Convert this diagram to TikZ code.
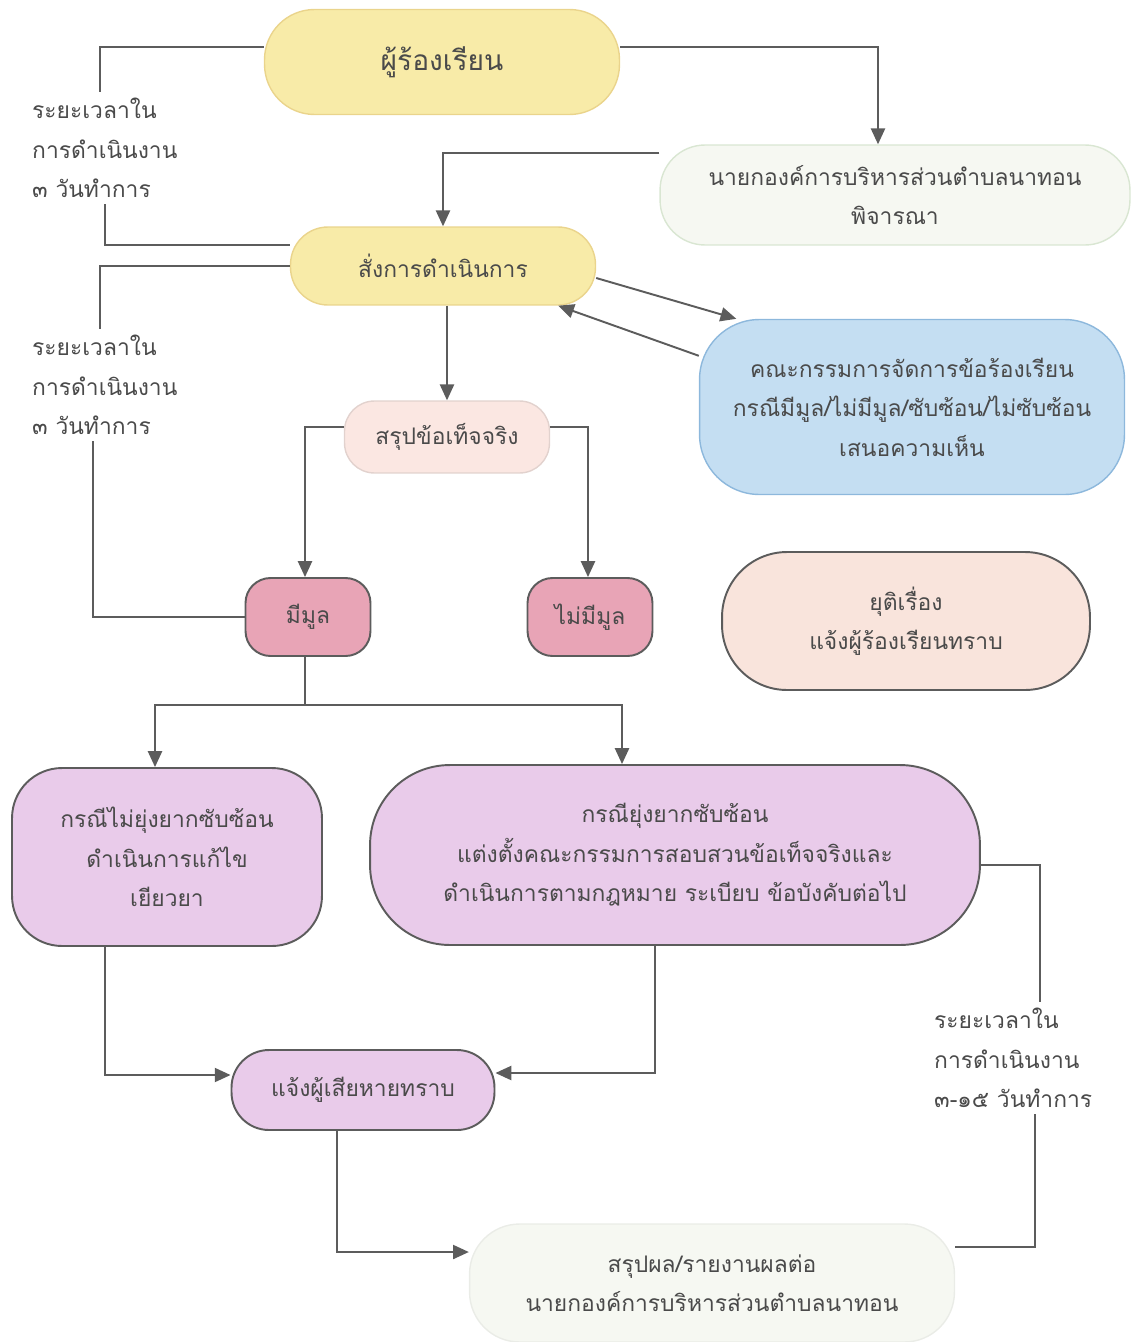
\documentclass[tikz,border=0pt]{standalone}
\usepackage{fontspec}
\setmainfont[Script=Thai]{Loma}
\usepackage{tikz}
\usetikzlibrary{arrows.meta, positioning, calc}
\definecolor{lineg}{HTML}{5C5C5C}
\definecolor{textg}{HTML}{4A4A4A}
\definecolor{yellowfill}{HTML}{F8EBA8}
\definecolor{yellowedge}{HTML}{EAD48C}
\definecolor{pinkfill}{HTML}{E8A4B6}
\definecolor{lilacfill}{HTML}{E9CBEA}
\definecolor{bluefill}{HTML}{C4DEF2}
\definecolor{blueedge}{HTML}{8DB8DC}
\definecolor{peachfill}{HTML}{F9E4DC}
\definecolor{rosefill}{HTML}{FBE7E2}
\definecolor{palefill}{HTML}{F6F8F2}
\definecolor{paleedge}{HTML}{D9E6D2}

\begin{document}
\begin{tikzpicture}[
    x=0.02cm, y=-0.02cm,
    every node/.style={font=\fontsize{13}{22.5}\selectfont, text=textg},
    softpill/.style={rectangle, align=center, rounded corners=0.75cm, thick},
    yellowpill/.style={softpill, fill=yellowfill, draw=yellowedge},
    palepill/.style={softpill, fill=palefill, draw=paleedge},
    darkbox/.style={rectangle, align=center, fill=lilacfill, draw=lineg,
                    line width=1.1pt, rounded corners=0.75cm},
    note/.style={align=left, anchor=west},
    link/.style={line width=1.1pt, lineg},
    arrow/.style={link, -{Triangle[length=9pt,width=8pt]}}
]
\useasboundingbox (0,0) rectangle (1133,1342);

% Upper part
\node[yellowpill, minimum width=7.1cm, minimum height=2.1cm, rounded corners=1cm,
      font=\fontsize{16}{22}\selectfont] at (442,62) (comp) {ผู้ร้องเรียน};
\node[palepill, minimum width=9.4cm, minimum height=2cm, rounded corners=0.9cm]
      at (895,195) (mayor) {นายกองค์การบริหารส่วนตำบลนาทอน\\พิจารณา};
\node[yellowpill, minimum width=6.1cm, minimum height=1.56cm] at (443,266) (order) {สั่งการดำเนินการ};
\node[softpill, fill=bluefill, draw=blueedge, minimum width=8.5cm, minimum height=3.5cm,
      rounded corners=1.2cm] at (912,407) (board)
      {คณะกรรมการจัดการข้อร้องเรียน\\กรณีมีมูล/ไม่มีมูล/ซับซ้อน/ไม่ซับซ้อน\\เสนอความเห็น};
\node[softpill, fill=rosefill, draw=rosefill!80!gray, minimum width=4.1cm, minimum height=1.44cm,
      rounded corners=0.6cm] at (447,437) (facts) {สรุปข้อเท็จจริง};

% Decision
\node[darkbox, fill=pinkfill, minimum width=2.5cm, minimum height=1.56cm, rounded corners=0.5cm]
      at (308,617) (yes) {มีมูล};
\node[darkbox, fill=pinkfill, minimum width=2.5cm, minimum height=1.56cm, rounded corners=0.5cm]
      at (590,617) (no) {ไม่มีมูล};
\node[darkbox, fill=peachfill, minimum width=7.36cm, minimum height=2.76cm, rounded corners=1.3cm]
      at (906,621) (close) {ยุติเรื่อง\\แจ้งผู้ร้องเรียนทราบ};

% Lower part
\node[darkbox, minimum width=6.2cm, minimum height=3.56cm, rounded corners=1cm]
      at (167,857) (simple) {กรณีไม่ยุ่งยากซับซ้อน\\ดำเนินการแก้ไข\\เยียวยา};
\node[darkbox, minimum width=12.2cm, minimum height=3.6cm, rounded corners=1.6cm]
      at (675,855) (complex)
      {กรณียุ่งยากซับซ้อน\\แต่งตั้งคณะกรรมการสอบสวนข้อเท็จจริงและ\\ดำเนินการตามกฎหมาย ระเบียบ ข้อบังคับต่อไป};
\node[darkbox, minimum width=5.26cm, minimum height=1.6cm, rounded corners=0.75cm]
      at (363,1090) (notify) {แจ้งผู้เสียหายทราบ};
\node[palepill, draw=palefill!90!gray, minimum width=9.7cm, minimum height=2.36cm, rounded corners=1cm]
      at (712,1283) (report) {สรุปผล/รายงานผลต่อ\\นายกองค์การบริหารส่วนตำบลนาทอน};

% Time notes
\node[note] at (26,148) (time1) {ระยะเวลาใน\\การดำเนินงาน\\๓ วันทำการ};
\node[note] at (26,385) (time2) {ระยะเวลาใน\\การดำเนินงาน\\๓ วันทำการ};
\node[note] at (928,1058) (time3) {ระยะเวลาใน\\การดำเนินงาน\\๓-๑๕ วันทำการ};

% Arrows
\draw[arrow] ([yshift=0.3cm]comp.east) -| ([xshift=-0.34cm]mayor.north);
\draw[arrow] ([yshift=0.84cm]mayor.west) -| (order.north);
\draw[arrow] ([yshift=-0.24cm]order.east) -- ([xshift=0.75cm]board.north west);
\draw[arrow] ([yshift=-0.74cm]board.north west) -- ([xshift=-0.76cm]order.south east);
\draw[arrow] (order.south -| facts.north) -- (facts.north);
\draw[arrow] ([yshift=0.2cm]facts.west) -| ([xshift=-0.06cm]yes.north);
\draw[arrow] ([yshift=0.2cm]facts.east) -| ([xshift=-0.04cm]no.north);

\coordinate (split) at ($(yes.south)+(-3,48)$);
\draw[link] ([xshift=-0.06cm]yes.south) -- (split);
\draw[arrow] (split) -| ([xshift=-0.24cm]simple.north);
\draw[arrow] (split) -| ([xshift=-1.06cm]complex.north);

\draw[arrow] ([xshift=-1.24cm]simple.south) |- ([yshift=0.3cm]notify.west);
\draw[arrow] ([xshift=-0.4cm]complex.south) |- ([yshift=0.34cm]notify.east);
\draw[arrow] ([xshift=-0.52cm]notify.south) |- ([yshift=0.62cm]report.west);

% Time brackets
\draw[link] ([yshift=0.3cm]comp.west) -| ([xshift=1.48cm]time1.north west);
\draw[link] ([xshift=1.58cm]time1.south west) |- ([yshift=0.42cm]order.west);
\draw[link] (order.west) -| ([xshift=1.48cm]time2.north west);
\draw[link] ([xshift=1.34cm]time2.south west) |- (yes.west);
\draw[link] ([yshift=-0.2cm]complex.east) -| ([xshift=2.24cm]time3.north west);
\draw[link] ([xshift=2.14cm]time3.south west) |- ([yshift=0.72cm]report.east);

\end{tikzpicture}
\end{document}
